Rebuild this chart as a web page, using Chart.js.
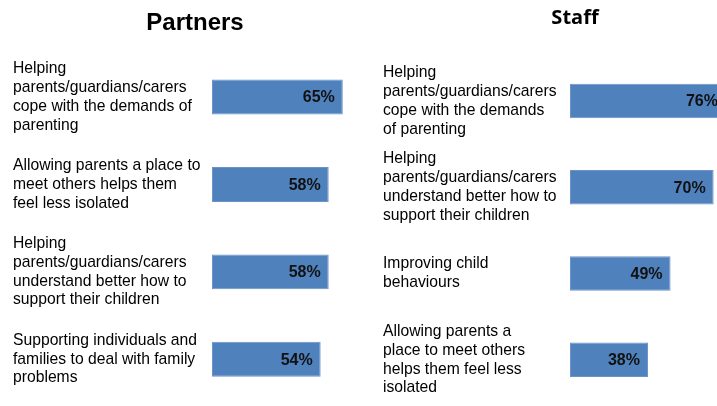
<!DOCTYPE html>
<html>
<head>
<meta charset="utf-8">
<script src="https://cdn.jsdelivr.net/npm/chart.js@4/dist/chart.umd.min.js"></script>
<style>
  html, body { margin: 0; padding: 0; background: #ffffff; overflow: hidden; width: 717px; height: 406px; }
  canvas { position: absolute; top: 0; }
  #partners { left: 0px; }
  #staff { left: 370px; }
</style>
</head>
<body>
<canvas id="partners" width="380" height="406"></canvas>
<canvas id="staff" width="397" height="406"></canvas>
<script>
// ---- Data ----
const partnersTitle = "Partners";
const partnersCategories = [
  ["Helping", "parents/guardians/carers", "cope with the demands of", "parenting"],
  ["Allowing parents a place to", "meet others helps them", "feel less isolated"],
  ["Helping", "parents/guardians/carers", "understand better how to", "support their children"],
  ["Supporting individuals and", "families to deal with family", "problems"]
];
const partnersValues = [65, 58, 58, 54];

const staffTitle = "Staff";
const staffCategories = [
  ["Helping", "parents/guardians/carers", "cope with the demands", "of parenting"],
  ["Helping", "parents/guardians/carers", "understand better how to", "support their children"],
  ["Improving child", "behaviours"],
  ["Allowing parents a", "place to meet others", "helps them feel less", "isolated"]
];
const staffValues = [76, 70, 49, 38];

// ---- Rendering ----
const BAR_COLOR = '#4F81BD';
const LABEL_FONT = "'Liberation Sans', Arial, sans-serif";

const valueLabelPlugin = {
  id: 'valueLabels',
  afterDatasetsDraw(chart) {
    const ctx = chart.ctx;
    const meta = chart.getDatasetMeta(0);
    const data = chart.data.datasets[0].data;
    ctx.save();
    ctx.font = "bold 16px " + LABEL_FONT;
    ctx.fillStyle = '#111111';
    ctx.textAlign = 'right';
    ctx.textBaseline = 'middle';
    meta.data.forEach((bar, i) => {
      ctx.fillText(data[i] + '%', bar.x - 8, bar.y + 1);
    });
    ctx.restore();
  }
};

function makeChart(id, title, categories, values, cfg) {
  return new Chart(document.getElementById(id), {
    type: 'bar',
    data: {
      labels: categories,
      datasets: [{
        data: values,
        backgroundColor: BAR_COLOR,
        borderColor: '#6A93C8',
        borderWidth: 1,
        borderSkipped: false,
        barPercentage: 0.4,
        categoryPercentage: 1.0
      }]
    },
    options: {
      responsive: false,
      animation: false,
      indexAxis: 'y',
      layout: { padding: { left: 13, right: cfg.padRight, top: 0, bottom: 3 } },
      plugins: {
        legend: { display: false },
        tooltip: { enabled: false },
        title: {
          display: true,
          text: title,
          color: '#000000',
          font: cfg.titleFont,
          padding: cfg.titlePadding
        }
      },
      scales: {
        x: {
          display: false,
          min: 0,
          max: cfg.xMax,
          grid: { display: false }
        },
        y: {
          grid: { display: false, drawTicks: false },
          border: { display: false },
          ticks: {
            crossAlign: 'far',
            color: '#000000',
            padding: 0,
            font: { family: LABEL_FONT, size: 15.7, lineHeight: 1.2 }
          },
          afterFit(scale) {
            scale.width = cfg.axisWidth;
            scale.paddingTop = 0;
            scale.paddingBottom = 0;
          }
        }
      }
    },
    plugins: [valueLabelPlugin]
  });
}

makeChart('partners', partnersTitle, partnersCategories, partnersValues, {
  padRight: 3,
  xMax: 82,
  axisWidth: 199,
  titleFont: { family: LABEL_FONT, size: 24, weight: 'bold', lineHeight: 1.2 },
  titlePadding: { top: 8.5, bottom: 16 }
});

makeChart('staff', staffTitle, staffCategories, staffValues, {
  padRight: 0,
  xMax: 96,
  axisWidth: 187,
  titleFont: { family: "'Open Sans', sans-serif", size: 20, weight: 'bold', lineHeight: 1.2 },
  titlePadding: { top: 6, bottom: 27.9 }
});
</script>
</body>
</html>
